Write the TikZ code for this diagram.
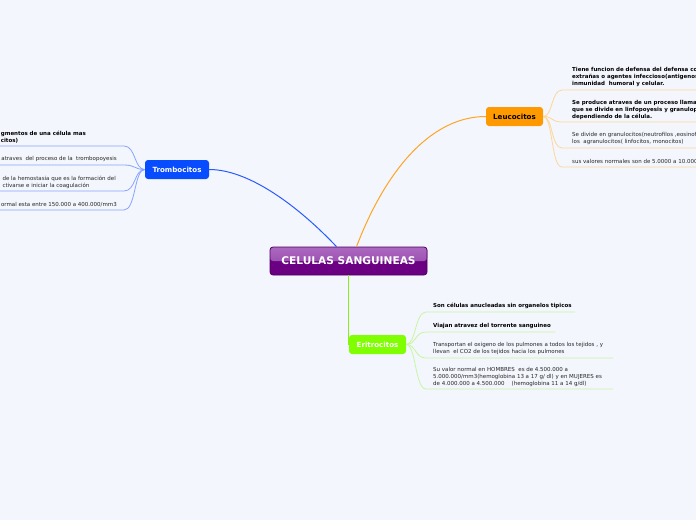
\documentclass[tikz,border=0pt]{standalone}
\usepackage{fontspec}
\setmainfont{DejaVu Sans}

\definecolor{bgcol}{RGB}{243,246,253}
\definecolor{rootedge}{RGB}{75,0,95}
\definecolor{rootlow}{RGB}{108,0,130}
\definecolor{roothigh}{RGB}{172,105,192}
\definecolor{rootmid}{RGB}{140,60,165}
\definecolor{trombcol}{RGB}{8,76,255}
\definecolor{trombline}{RGB}{40,90,255}
\definecolor{trombleaf}{RGB}{135,165,255}
\definecolor{leucocol}{RGB}{255,153,0}
\definecolor{leucoline}{RGB}{255,165,35}
\definecolor{leucoleaf}{RGB}{255,214,150}
\definecolor{ericol}{RGB}{128,255,0}
\definecolor{eriline}{RGB}{140,235,30}
\definecolor{erileaf}{RGB}{200,245,160}

\begin{document}
\begin{tikzpicture}[x=1pt, y=-1pt,
    root/.style={rounded corners=3pt, draw=rootedge, line width=0.7pt, fill=rootlow,
      minimum width=157pt, minimum height=28pt, text=white,
      font=\fontsize{10.6}{12}\selectfont\bfseries,
      path picture={\fill[top color=roothigh, bottom color=rootmid]
        (path picture bounding box.north west) rectangle (path picture bounding box.east);}},
    topic/.style={rounded corners=3pt, minimum height=19pt, inner sep=0pt,
      font=\fontsize{7.1}{8}\selectfont\bfseries},
    leaf/.style={font=\fontsize{5.5}{7}\selectfont, inner sep=0pt, align=left, text=black!85},
    leafb/.style={leaf, font=\fontsize{5.5}{7}\selectfont\bfseries, text=black},
    tline/.style={draw=trombleaf, line width=0.8pt},
    lline/.style={draw=leucoleaf, line width=0.8pt},
    eline/.style={draw=erileaf, line width=0.8pt}
]
  % Background and frame
  \fill[bgcol] (0,0) rectangle (696,520);
  \clip (0,0) rectangle (696,520);
  % Main nodes
  \node[root] (root) at (348.5,261) {CELULAS SANGUINEAS};
  \node[topic, fill=trombcol, text=white, minimum width=64pt] (tromb) at (177,169.5) {Trombocitos};
  \node[topic, fill=leucocol, text=black, minimum width=57pt] (leuco) at (514.5,116.5) {Leucocitos};
  \node[topic, fill=ericol, text=white, minimum width=57pt] (eri) at (377.5,344.5) {Eritrocitos};
  % Main connectors
  \draw[trombline, line width=1pt] ([xshift=-12pt]root.north) .. controls (300,208) and (250,169.5) .. (tromb.east);
  \draw[leucoline, line width=1pt] ([xshift=8pt]root.north) .. controls (385,172) and (430,116.5) .. (leuco.west);
  \draw[eriline, line width=1pt] (root.south) -- (root.south |- eri.west) -- (eri.west);
  % Trombocitos branches
  \coordinate (t1) at (124,146);   \coordinate (t1e) at (-5,146);
  \coordinate (t2) at (124,165);   \coordinate (t2e) at (-5,165);
  \coordinate (t3) at (124,191);   \coordinate (t3e) at (-5,191);
  \coordinate (t4) at (124,210);   \coordinate (t4e) at (-5,210);
  \foreach \c in {t1,t2,t3,t4}
    \draw[tline] (tromb.west) .. controls (134,169.5) and (136,0 |- \c) .. (\c) -- (\c e);
  \node[leafb, anchor=south east] (t1txt) at (86,143) {gmentos de una célula mas\\citos)};
  \node[leaf, anchor=south east] (t2txt) at (117,162) {atraves\ \ del proceso de la\ \ trombopoyesis};
  \node[leaf, anchor=south east] (t3txt) at (116,188.5) {de la hemostasia que es la formación del\\ctivarse e iniciar la coagulación};
  \node[leaf, anchor=south east] (t4txt) at (117,207) {ormal esta entre 150.000 a 400.000/mm3};
  % Leucocitos branches
  \coordinate (l1) at (562,90);    \coordinate (l1e) at (700,90);
  \coordinate (l2) at (562,122);   \coordinate (l2e) at (700,122);
  \coordinate (l3) at (562,148);   \coordinate (l3e) at (700,148);
  \coordinate (l4) at (562,167);   \coordinate (l4e) at (700,167);
  \foreach \c in {l1,l2,l3,l4}
    \draw[lline] (leuco.east) .. controls (553,116.5) and (551,0 |- \c) .. (\c) -- (\c e);
  \node[leafb, anchor=south west] (l1txt) at (572,87) {Tiene funcion de defensa del defensa co\\extrañas o agentes infeccioso(antigenos\\inmunidad\ \ humoral y celular.};
  \node[leafb, anchor=south west] (l2txt) at (572,119.5) {Se produce atraves de un proceso llama\\que se divide en linfopoyesis y granulop\\dependiendo de la célula.};
  \node[leaf, anchor=south west] (l3txt) at (572,144.5) {Se divide en granulocitos(neutrofilos ,eosinof\\los\ \ agranulocitos( linfocitos, monocitos)};
  \node[leaf, anchor=south west] (l4txt) at (572,164) {sus valores normales son de 5.0000 a 10.000};
  % Eritrocitos branches
  \coordinate (e1) at (426,312);   \coordinate (e1e) at (575,312);
  \coordinate (e2) at (426,332);   \coordinate (e2e) at (555,332);
  \coordinate (e3) at (426,358);   \coordinate (e3e) at (613,358);
  \coordinate (e4) at (426,389);   \coordinate (e4e) at (613,389);
  \foreach \c in {e1,e2,e3,e4}
    \draw[eline] (eri.east) .. controls (416,344.5) and (415,0 |- \c) .. (\c) -- (\c e);
  \node[leafb, anchor=south west] (e1txt) at (433,309) {Son células anucleadas sin organelos tipicos};
  \node[leafb, anchor=south west] (e2txt) at (433,328.5) {Viajan atravez del torrente sanguineo};
  \node[leaf, anchor=south west] (e3txt) at (433,354.5) {Transportan el oxigeno de los pulmones a todos los tejidos , y\\llevan\ \ el CO2 de los tejidos hacia los pulmones};
  \node[leaf, anchor=south west] (e4txt) at (433,386.5) {Su valor normal en HOMBRES\ \ es de 4.500.000 a\\5.000.000/mm3(hemoglobina 13 a 17 g/ dl) y en MUJERES es\\de 4.000.000 a 4.500.000\ \ \ \ (hemoglobina 11 a 14 g/dl)};
\end{tikzpicture}
\end{document}
